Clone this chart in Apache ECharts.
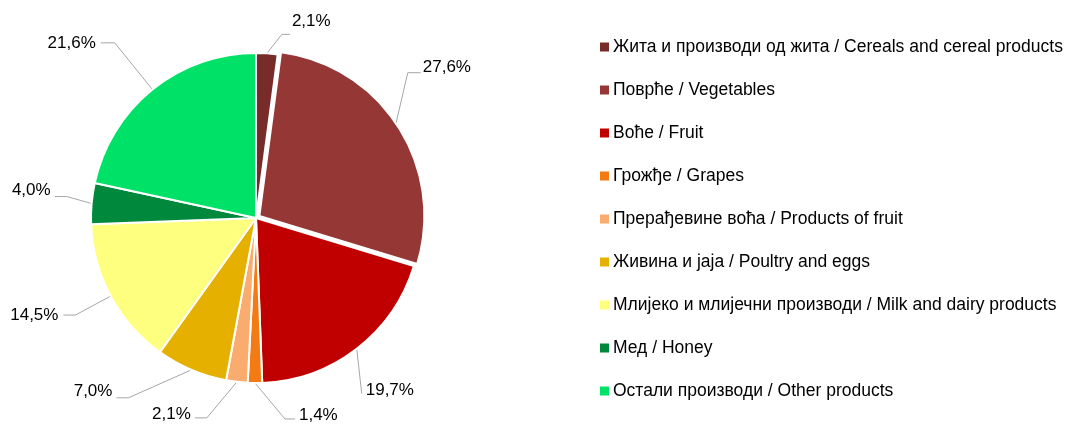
<!DOCTYPE html>
<html>
<head>
<meta charset="utf-8">
<script src="https://cdn.jsdelivr.net/npm/echarts@6/dist/echarts.min.js"></script>
<style>
  html, body { margin: 0; padding: 0; background: #fff; }
  #pie { width: 1067px; height: 425px; }
</style>
</head>
<body>
<div id="pie"></div>
<script>
var categories = [
  'Жита и производи од жита / Cereals and cereal products',
  'Поврће / Vegetables',
  'Воће / Fruit',
  'Грожђе / Grapes',
  'Прерађевине воћа / Products of fruit',
  'Живина и јаја / Poultry and eggs',
  'Млијеко и млијечни производи / Milk and dairy products',
  'Мед / Honey',
  'Остали производи / Other products'
];
var shares = [2.1, 27.6, 19.7, 1.4, 2.1, 7.0, 14.5, 4.0, 21.6];
var colors = ['#772C2A', '#953735', '#C00000', '#F47A14', '#F9AC6E', '#E5B000', '#FFFF7F', '#00893D', '#00E168'];

// Excel labels were dragged by hand; leader routes relative to the slice edge point:
// [bendDx, bendDy, endDx, textDx, textDy, align]
var leaderRoutes = [
  [15, -19, 23, 25, -32, 'left'],
  [13, -56, 26, 28, -61, 'left'],
  [5, 45, 5, 9, 42, 'left'],
  [30, 36, 40, 44, 32, 'left'],
  [-30, 36, -42, -46, 32, 'right'],
  [-63, 28, -75, -79, 21, 'right'],
  null,
  [-25, -7, -37, -41, -13, 'right'],
  null
];

var FONT = '"Liberation Sans", Arial, sans-serif';

var myChart = echarts.init(document.getElementById('pie'));

var pieData = [];
var labelData = [];
for (var i = 0; i < categories.length; i++) {
  pieData.push({
    name: categories[i],
    value: shares[i],
    selected: i === 1, // vegetables slice is pulled out a bit
    itemStyle: { color: colors[i] }
  });
  labelData.push({ name: categories[i], value: shares[i] });
}
// "Остали" keeps the library's radial leader, just longer
labelData[8].labelLine = { length: 60, length2: 14 };

var option = {
  animation: false,
  textStyle: { fontFamily: FONT },
  legend: {
    orient: 'vertical',
    left: 598,
    top: 37,
    padding: 0,
    itemWidth: 11,
    itemHeight: 11,
    itemGap: 23,
    icon: 'rect',
    textStyle: { fontFamily: FONT, fontSize: 17.5, color: '#000', lineHeight: 20, padding: [0, 0, 0, -2] },
    data: categories
  },
  series: [{
    // the slices
    type: 'pie',
    center: [256, 218],
    radius: 165,
    startAngle: 90,
    clockwise: true,
    selectedMode: 'single',
    selectedOffset: 4,
    itemStyle: { borderColor: '#fff', borderWidth: 2 },
    label: { show: false },
    labelLine: { show: false },
    emphasis: { disabled: true },
    data: pieData
  }, {
    // same shares again, transparent, only to carry the percentage labels
    type: 'pie',
    center: [256, 218],
    radius: 165,
    startAngle: 90,
    clockwise: true,
    silent: true,
    avoidLabelOverlap: false,
    itemStyle: { color: 'rgba(0,0,0,0)', borderWidth: 0 },
    label: {
      show: true,
      position: 'outside',
      fontFamily: FONT,
      fontSize: 17,
      color: '#000',
      formatter: function (p) {
        return p.value.toFixed(1).replace('.', ',') + '%';
      }
    },
    labelLine: {
      show: true,
      length: 40,
      length2: 12,
      lineStyle: { color: '#a6a6a6', width: 1 }
    },
    labelLayout: function (p) {
      var r = leaderRoutes[p.dataIndex];
      if (!r || !p.labelLinePoints) return {};
      var a = p.labelLinePoints[0];
      return {
        x: a[0] + r[3],
        y: a[1] + r[4],
        align: r[5],
        verticalAlign: 'middle',
        labelLinePoints: [a, [a[0] + r[0], a[1] + r[1]], [a[0] + r[2], a[1] + r[1]]]
      };
    },
    emphasis: { disabled: true },
    data: labelData
  }]
};
myChart.setOption(option);
</script>
</body>
</html>
